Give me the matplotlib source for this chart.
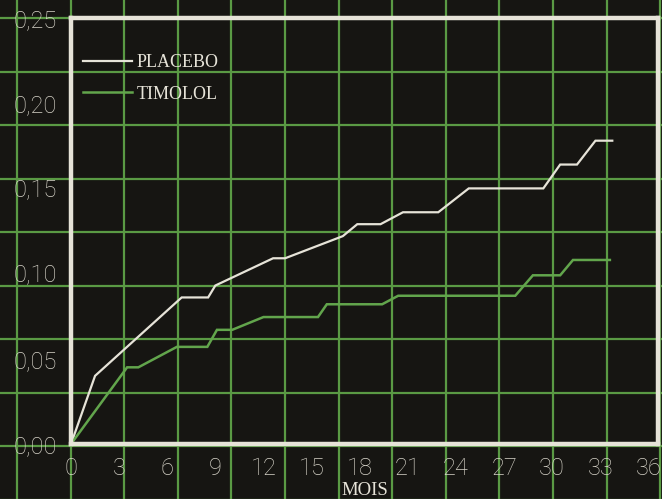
import numpy as np
import matplotlib
matplotlib.use('Agg')
import matplotlib.pyplot as plt
from matplotlib.font_manager import FontProperties

# data (months, cumulative rate)
placebo_mois = [0, 1.5, 6.9, 8.55, 9.0, 12.6, 13.35, 16.95, 17.85, 19.3, 20.7,
                22.9, 24.8, 29.45, 30.5, 31.55, 32.7, 33.75]
placebo = [0, 0.040, 0.086, 0.086, 0.093, 0.109, 0.109, 0.122, 0.129, 0.129,
           0.136, 0.136, 0.150, 0.150, 0.164, 0.164, 0.178, 0.178]

timolol_mois = [0, 3.5, 4.2, 6.6, 8.5, 9.1, 10.05, 12.0, 15.4, 15.95, 19.4,
                20.4, 27.7, 28.8, 30.5, 31.3, 33.6]
timolol = [0, 0.045, 0.045, 0.057, 0.057, 0.067, 0.067, 0.0745, 0.0745, 0.082,
           0.082, 0.087, 0.087, 0.099, 0.099, 0.108, 0.108]

xticks = list(range(0, 37, 3))
yticks = [0, 0.05, 0.10, 0.15, 0.20, 0.25]
ytick_labels = ['0,00', '0,05', '0,10', '0,15', '0,20', '0,25']

bg = '#161512'
white = '#e6e3d8'
green = '#5a9a44'

W, H = 662, 499
fig = plt.figure(figsize=(W / 100, H / 100), dpi=100, facecolor=bg)

# background squared paper, in pixel units
back = fig.add_axes([0, 0, 1, 1], zorder=0)
back.set_xlim(0, W)
back.set_ylim(H, 0)
back.axis('off')
for gx in np.arange(17, W + 5, 53.6):
    back.axvline(gx, color=green, lw=1.6)
for gy in np.arange(18, H + 5, 53.5):
    back.axhline(gy, color=green, lw=1.6)

ax = fig.add_axes([71 / W, 1 - 444 / H, (658 - 71) / W, (444 - 18) / H], zorder=1)
ax.set_facecolor('none')

ax.plot(placebo_mois, placebo, color=white, lw=1.6, label='PLACEBO',
        solid_joinstyle='miter')
ax.plot(timolol_mois, timolol, color='#62a54c', lw=1.8, label='TIMOLOL',
        solid_joinstyle='miter')

ax.set_xlim(0, 36.6)
ax.set_ylim(0, 0.25)
ax.set_xticks(xticks)
ax.set_yticks(yticks)
ax.set_yticklabels(ytick_labels)

for s in ax.spines.values():
    s.set_color(white)
    s.set_linewidth(3.2)

tick_font = FontProperties(family=['Roboto', 'Liberation Sans', 'DejaVu Sans'],
                           weight='light', size=17)
ax.tick_params(length=0, colors='#d6d3c8')
ax.tick_params(axis='x', pad=9.5)
ax.tick_params(axis='y', pad=10)
for lab in ax.get_xticklabels() + ax.get_yticklabels():
    lab.set_fontproperties(tick_font)

ax.set_xlabel('MOIS', family=['Liberation Serif'], size=13.5, color=white, va='center')
ax.xaxis.set_label_coords(0.501, -0.108)

leg = ax.legend(loc='upper left', bbox_to_anchor=(83 / W, 1 - 54.5 / H),
                bbox_transform=fig.transFigure, frameon=False,
                prop=dict(family='Liberation Serif', size=13),
                handlelength=2.7, handletextpad=0.28, labelspacing=0.78,
                borderpad=0, borderaxespad=0)
for t in leg.get_texts():
    t.set_color(white)

fig.savefig('out.png', dpi=100, facecolor=bg)
